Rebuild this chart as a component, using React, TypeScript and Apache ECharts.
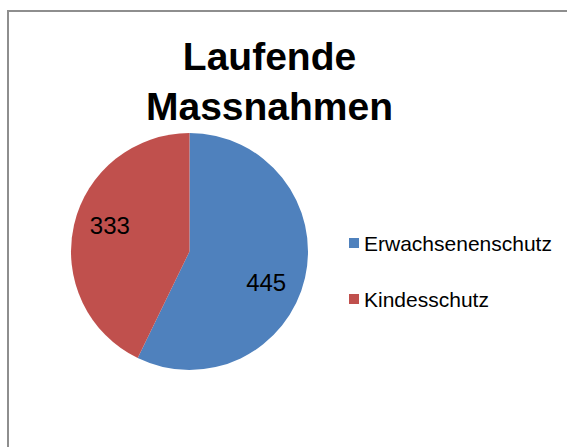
import React, { useEffect, useRef } from "react";
import * as echarts from "echarts";

const titleText = "Laufende\nMassnahmen";
const categories = ["Erwachsenenschutz", "Kindesschutz"];
const values = [445, 333];
const colors = ["#4F81BD", "#C0504D"];

export default function App() {
  const ref = useRef<HTMLDivElement>(null);
  useEffect(() => {
    if (!ref.current) return;
    const chart = echarts.init(ref.current, undefined, { renderer: "svg" });
    const font = "'Liberation Sans', Arial, sans-serif";
    const labelShift = [
      [-4, 12],
      [0, -8],
    ];
    chart.setOption({
      animation: false,
      backgroundColor: "#ffffff",
      color: colors,
      graphic: [
        {
          type: "rect",
          shape: { x: 8, y: 11, width: 620, height: 500 },
          style: { fill: "none", stroke: "#8e8e8e", lineWidth: 2 },
          silent: true,
          z: 100,
        },
      ],
      title: {
        text: titleText,
        left: 269.5,
        top: 31,
        textAlign: "center",
        padding: 0,
        textStyle: {
          fontFamily: font,
          fontSize: 39,
          fontWeight: "bold",
          color: "#000",
          lineHeight: 50,
        },
      },
      legend: {
        orient: "vertical",
        left: 349,
        top: 232.5,
        padding: 0,
        itemWidth: 10,
        itemHeight: 10,
        itemGap: 35,
        icon: "rect",
        data: categories,
        textStyle: {
          fontFamily: font,
          fontSize: 21,
          lineHeight: 21,
          color: "#000",
        },
      },
      series: [
        {
          type: "pie",
          center: [189.5, 251.5],
          radius: [0, 118.5],
          startAngle: 90,
          clockwise: true,
          label: {
            show: true,
            position: "inside",
            formatter: "{c}",
            fontFamily: font,
            fontSize: 24,
            color: "#000",
          },
          labelLine: { show: false },
          labelLayout: (p: any) => ({
            dx: labelShift[p.dataIndex][0] + (p.dataIndex === 0 ? 20 : -19),
            dy: labelShift[p.dataIndex][1] + (p.dataIndex === 0 ? 4.7 : -4.3),
          }),
          itemStyle: { borderWidth: 0 },
          emphasis: { disabled: true },
          data: categories.map((name, i) => ({ name, value: values[i] })),
        },
      ],
    });
    return () => chart.dispose();
  }, []);
  return (
    <div
      ref={ref}
      style={{ position: "fixed", left: 0, top: 0, width: 567, height: 447 }}
    />
  );
}
